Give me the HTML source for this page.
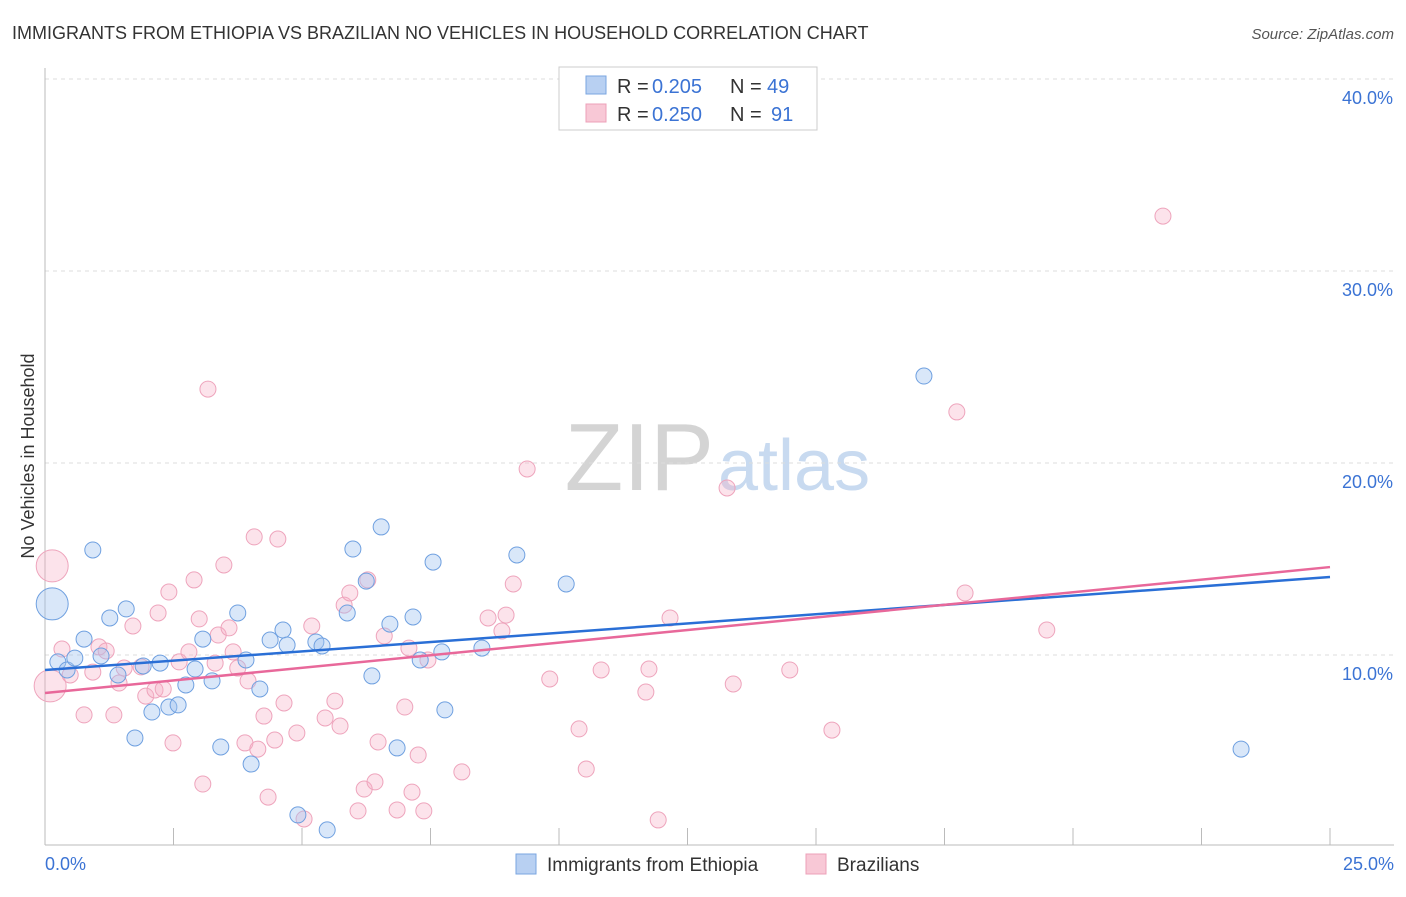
<!DOCTYPE html>
<html><head><meta charset="utf-8"><style>
body{margin:0;background:#fff;font-family:"Liberation Sans",sans-serif;}
svg text{font-family:"Liberation Sans",sans-serif;}
</style></head><body>
<svg id="c" width="1406" height="892">
<text x="12" y="39" font-size="18" fill="#333">IMMIGRANTS FROM ETHIOPIA VS BRAZILIAN NO VEHICLES IN HOUSEHOLD CORRELATION CHART</text>
<text x="1394" y="39" font-size="15" fill="#555" text-anchor="end" font-style="italic">Source: ZipAtlas.com</text>
<text x="714" y="490" font-size="96" fill="#d4d4d4" text-anchor="end" font-family="Liberation Serif">ZIP</text>
<text x="718" y="490" font-size="72" fill="#c8daf0">atlas</text>
<text transform="translate(34,456) rotate(-90)" font-size="18" fill="#333" text-anchor="middle">No Vehicles in Household</text>
<g id="grid"></g><g id="pts"></g><g id="lines"></g>
<text x="45" y="870" font-size="18" fill="#3b73d4">0.0%</text>
<text x="1394" y="870" font-size="18" fill="#3b73d4" text-anchor="end">25.0%</text>
<g>
<rect x="559" y="67" width="258" height="63" fill="#fff" stroke="#ccc"/>
<rect x="586" y="76" width="20" height="18" fill="#b8d0f2" stroke="#7aa6e0"/>
<text x="617" y="93" font-size="20" fill="#333">R =</text>
<text x="652" y="93" font-size="20" fill="#3b73d4">0.205</text>
<text x="730" y="93" font-size="20" fill="#333">N =</text>
<text x="767" y="93" font-size="20" fill="#3b73d4">49</text>
<rect x="586" y="104" width="20" height="18" fill="#f8c8d6" stroke="#eda0b8"/>
<text x="617" y="121" font-size="20" fill="#333">R =</text>
<text x="652" y="121" font-size="20" fill="#3b73d4">0.250</text>
<text x="730" y="121" font-size="20" fill="#333">N =</text>
<text x="771" y="121" font-size="20" fill="#3b73d4">91</text>
</g>
<g>
<rect x="516" y="854" width="20" height="20" fill="#b8d0f2" stroke="#7aa6e0"/>
<text x="547" y="871" font-size="19" fill="#333">Immigrants from Ethiopia</text>
<rect x="806" y="854" width="20" height="20" fill="#f8c8d6" stroke="#eda0b8"/>
<text x="837" y="871" font-size="19" fill="#333">Brazilians</text>
</g>
</svg>
<script>
const yTicks=[10,20,30,40];
const yTickLabels=["10.0%","20.0%","30.0%","40.0%"];
const xTicks=[0,2.5,5,7.5,10,12.5,15,17.5,20,22.5,25];
const bluePx=[[52,604],[93,550],[84,639],[110,618],[126,609],[101,656],[58,662],[67,670],[118,675],[143,666],[160,663],[135,738],[152,712],[169,707],[178,705],[186,685],[195,669],[203,639],[212,681],[221,747],[238,613],[246,660],[251,764],[260,689],[270,640],[283,630],[287,645],[298,815],[316,642],[322,646],[327,830],[347,613],[353,549],[366,581],[372,676],[381,527],[390,624],[397,748],[413,617],[420,660],[433,562],[442,652],[445,710],[482,648],[517,555],[566,584],[924,376],[1241,749],[75,658]];
const pinkPx=[[52,566],[50,686],[62,649],[70,675],[84,715],[93,672],[99,647],[106,651],[114,715],[119,683],[124,668],[133,626],[141,667],[146,696],[155,690],[158,613],[163,689],[169,592],[173,743],[179,662],[189,652],[194,580],[199,619],[203,784],[208,389],[215,663],[218,635],[224,565],[229,628],[233,652],[238,668],[245,743],[248,681],[254,537],[258,749],[264,716],[268,797],[275,740],[278,539],[284,703],[297,733],[304,819],[312,626],[325,718],[335,701],[340,726],[344,605],[350,593],[358,811],[364,789],[368,580],[375,782],[378,742],[384,636],[397,810],[405,707],[409,648],[412,792],[418,755],[424,811],[428,660],[462,772],[488,618],[502,631],[506,615],[513,584],[527,469],[550,679],[579,729],[586,769],[601,670],[646,692],[649,669],[658,820],[670,618],[727,488],[733,684],[790,670],[832,730],[957,412],[965,593],[1047,630],[1163,216]];
const blueX=bluePx.map(p=>+((p[0]-45)/1285*25).toFixed(2));
const blueY=bluePx.map(p=>+((847-p[1])/19.2).toFixed(2));
const pinkX=pinkPx.map(p=>+((p[0]-45)/1285*25).toFixed(2));
const pinkY=pinkPx.map(p=>+((847-p[1])/19.2).toFixed(2));
const blueTrend=[9.22,14.06];
const pinkTrend=[8.02,14.58];
const NS="http://www.w3.org/2000/svg";
const X=v=>45+v/25*1285, Y=v=>847-v*19.2;
function mk(t,a,p){const e=document.createElementNS(NS,t);for(const k in a)e.setAttribute(k,a[k]);document.getElementById(p).appendChild(e);return e;}
yTicks.forEach((t,i)=>{
 const l=mk('line',{x1:45,x2:1394,y1:Y(t),y2:Y(t),stroke:'#ddd','stroke-dasharray':'4,4'},'grid');
 
 
 const tx=mk('text',{x:1393,y:Y(t)+25,'font-size':18,fill:'#3b73d4','text-anchor':'end'},'grid');
 tx.textContent=yTickLabels[i];
 
 
});
const ax=mk('line',{x1:45,x2:45,y1:68,y2:845,stroke:'#bbb'},'grid');


const bx=mk('line',{x1:45,x2:1394,y1:845,y2:845,stroke:'#bbb'},'grid');


xTicks.forEach(t=>{
 const l=mk('line',{x1:X(t),x2:X(t),y1:828,y2:845,stroke:'#bbb'},'grid');
 
 
});
function pts(xs,ys,fill,stroke,name){
 xs.forEach((x,i)=>{
  const r=(i<1||(name==='pink-point'&&i<2))?16:8;
  const c=mk('circle',{cx:X(x),cy:Y(ys[i]),r:r,fill:fill,stroke:stroke,'stroke-width':1},'pts');
  
  
 });
}
pts(pinkX,pinkY,'rgba(245,175,198,0.35)','#eea4bc','pink-point');
pts(blueX,blueY,'rgba(160,195,240,0.4)','#6fa0e0','blue-point');
const bl=mk('line',{x1:X(0),y1:Y(blueTrend[0]),x2:X(25),y2:Y(blueTrend[1]),stroke:'#2a6fd6','stroke-width':2.5},'lines');


const pl=mk('line',{x1:X(0),y1:Y(pinkTrend[0]),x2:X(25),y2:Y(pinkTrend[1]),stroke:'#e8689a','stroke-width':2.5},'lines');


</script>
</body></html>
